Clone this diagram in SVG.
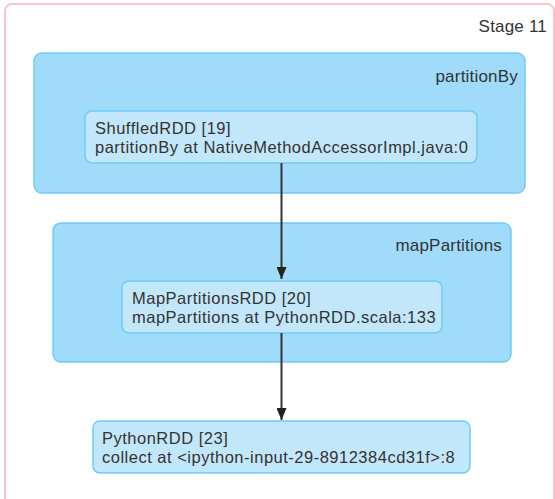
<svg xmlns="http://www.w3.org/2000/svg" width="555" height="499" viewBox="0 0 555 499">
  <style>
    text { font-family: "Liberation Sans", Arial, Helvetica, sans-serif; fill: #333; }
    .stage rect { fill: #ffffff; stroke: #ffc3cd; stroke-width: 2; }
    .cluster rect { fill: #a0dcfa; stroke: #6ecbf7; stroke-width: 1.5; }
    .node rect { fill: #c3e7fa; stroke: #6ecbf7; stroke-width: 1.5; }
    .label { font-size: 17px; letter-spacing: 0.2px; text-anchor: end; }
    .node text { font-size: 16.5px; letter-spacing: 0.5px; }
    .edge { stroke: #333; stroke-width: 2; fill: none; marker-end: url(#arrow); }
  </style>
  <defs>
    <marker id="arrow" viewBox="0 0 12 10" refX="12" refY="5" markerWidth="12" markerHeight="10" markerUnits="userSpaceOnUse" orient="auto">
      <path d="M0,0 L12,5 L0,10 z" fill="#222"/>
    </marker>
  </defs>

  <!-- stage container -->
  <g id="stage-11" class="stage">
    <rect x="5" y="4" width="549" height="520" rx="7"/>
    <text class="label" x="547" y="32">Stage 11</text>
  </g>

  <!-- operation scopes -->
  <g id="cluster-partitionBy" class="cluster">
    <rect x="34" y="53" width="491" height="140" rx="8"/>
    <text class="label" x="518" y="82">partitionBy</text>
  </g>
  <g id="cluster-mapPartitions" class="cluster">
    <rect x="53" y="223" width="458" height="139" rx="8"/>
    <text class="label" x="502" y="251">mapPartitions</text>
  </g>

  <!-- RDD nodes -->
  <g id="node-19" class="node">
    <rect x="85" y="111" width="392" height="52" rx="7"/>
    <text x="95" y="134">ShuffledRDD [19]</text>
    <text x="95" y="153">partitionBy at NativeMethodAccessorImpl.java:0</text>
  </g>
  <g id="node-20" class="node">
    <rect x="122" y="281" width="320" height="52" rx="7"/>
    <text x="132" y="304">MapPartitionsRDD [20]</text>
    <text x="132" y="323">mapPartitions at PythonRDD.scala:133</text>
  </g>
  <g id="node-23" class="node">
    <rect x="93" y="421" width="377" height="52" rx="7"/>
    <text x="102" y="444">PythonRDD [23]</text>
    <text x="102" y="463">collect at &lt;ipython-input-29-8912384cd31f&gt;:8</text>
  </g>

  <!-- dependencies -->
  <g id="edges">
    <path class="edge" d="M281.5,163 L281.5,279"/>
    <path class="edge" d="M281.5,333 L281.5,420"/>
  </g>
</svg>
